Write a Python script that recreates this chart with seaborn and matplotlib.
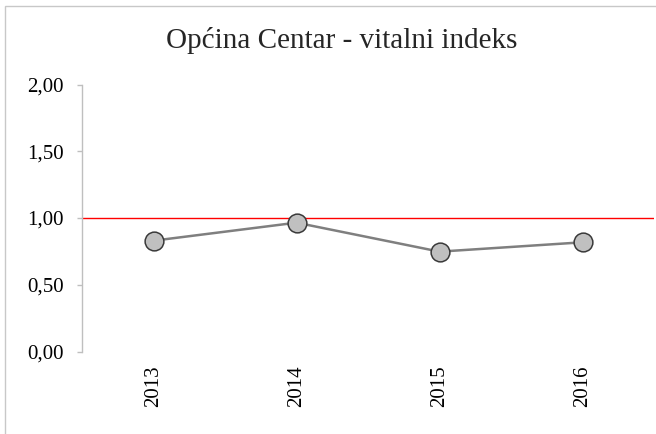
import matplotlib
matplotlib.use("Agg")
import matplotlib.pyplot as plt
from matplotlib.patches import Rectangle
from matplotlib.ticker import FuncFormatter
import seaborn as sns
import pandas as pd

# chart data
years = ["2013", "2014", "2015", "2016"]
vital_index = [0.83, 0.965, 0.748, 0.818]
reference_level = 1.0
y_ticks = [0.0, 0.5, 1.0, 1.5, 2.0]
title = "Općina Centar - vitalni indeks"

sns.set_style("white")
plt.rcParams["font.family"] = ["Liberation Serif", "DejaVu Serif"]

df = pd.DataFrame({"year": years, "value": vital_index})

fig = plt.figure(figsize=(6.56, 4.34), dpi=100)
ax = fig.add_axes([82 / 656, 1 - 351.5 / 434, (654 - 82) / 656, (351.5 - 84.5) / 434])

ax.axhline(reference_level, color="#ff0000", lw=1.0, zorder=1)
sns.lineplot(data=df, x="year", y="value", ax=ax, color="#7f7f7f", lw=1.8,
             marker="o", markersize=13.5, markerfacecolor="#c0c0c0",
             markeredgecolor="#3a3a3a", markeredgewidth=1.1, zorder=3)

ax.set_xlim(-0.5, 3.5)
ax.set_ylim(0, 2)
ax.set_yticks(y_ticks)
ax.yaxis.set_major_formatter(FuncFormatter(lambda v, _: f"{v:.2f}".replace(".", ",")))
ax.set_xlabel("")
ax.set_ylabel("")

for side in ["top", "right", "bottom"]:
    ax.spines[side].set_visible(False)
ax.spines["left"].set_color("#bfbfbf")
ax.spines["left"].set_linewidth(1.0)

ax.tick_params(axis="y", left=True, length=3.3, width=1.0, color="#bfbfbf",
               pad=10, labelsize=15, labelcolor="black")
ax.tick_params(axis="x", bottom=False, length=0, pad=10, labelsize=15,
               labelcolor="black", labelrotation=90)

fig.text(342 / 656, 1 - 48.5 / 434, title, ha="center", va="baseline", fontsize=21)

# chart frame (cropped at right and bottom)
fig.patches.append(Rectangle((4.5 / 656, -1), 2, 2 - 5.5 / 434, transform=fig.transFigure,
                             fill=False, edgecolor="#c8c8c8", lw=1.0))

fig.savefig("out.png", dpi=100)
